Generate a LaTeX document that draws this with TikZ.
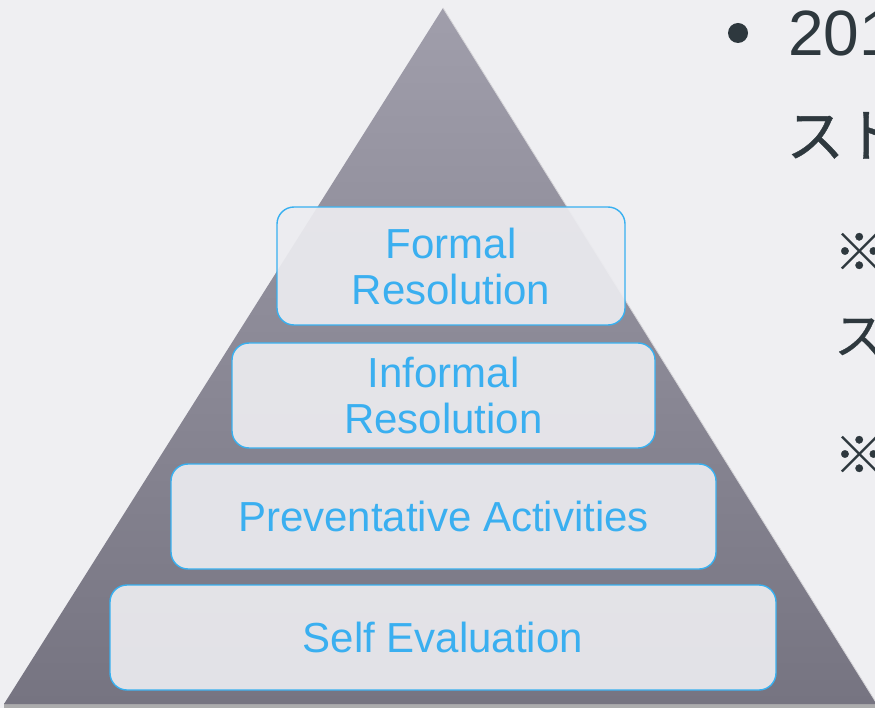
\documentclass[tikz,border=0pt]{standalone}
\usepackage{fontspec}
\setmainfont{Liberation Sans}
\newfontfamily\jpfont[FakeBold=0.6]{Noto Sans CJK JP}
\definecolor{bgc}{HTML}{EFEFF2}
\definecolor{boxfill}{HTML}{ECECF0}
\definecolor{boxline}{HTML}{38B0F0}
\definecolor{txtblue}{HTML}{3AAFF0}
\definecolor{pyrtop}{HTML}{A09EAB}
\definecolor{pyrbot}{HTML}{767481}
\definecolor{darktxt}{HTML}{2E383E}
\tikzset{
  tier/.style={draw=boxline, line width=1.4pt, fill=boxfill, fill opacity=0.92, text opacity=1,
    rounded corners=17pt, inner sep=0pt, text=txtblue, align=center,
    font=\fontsize{42}{46}\selectfont},
  jptxt/.style={inner sep=0pt, text=darktxt, anchor=base west}
}
\begin{document}
\begin{tikzpicture}[x=1pt,y=-1pt]
\useasboundingbox (0,0) rectangle (875,708);
\fill[bgc] (0,0) rectangle (875,708);
\clip (0,0) rectangle (875,708);
% pyramid
\fill[gray!60!bgc] (4,703) -- (875,703) -- (875,708) -- (4,708) -- cycle;
\shade[top color=pyrtop, bottom color=pyrbot] (443,8) -- (877,704) -- (4,704) -- cycle;
\draw[white!70!pyrbot, line width=0.8pt] (443,8) -- (877,704);
% tiers
\node[tier, minimum width=666pt, minimum height=105pt] (self) at (443,637.5) {Self Evaluation};
\node[tier, minimum width=545pt, minimum height=105pt] (prev) at (443.5,516.5) {Preventative Activities};
\node[tier, minimum width=423pt, minimum height=105pt] (inf) at (443.5,395.5) {Informal\\Resolution};
\node[tier, minimum width=348pt, minimum height=118pt] (form) at (451,266) {Formal\\Resolution};
% right text
\node[circle, fill=darktxt, inner sep=0pt, minimum size=20pt] (bul) at (738,33) {};
\node[jptxt, font=\fontsize{64}{64}\selectfont] (l1) at (788,56) {2019};
\node[jptxt, font=\jpfont\fontsize{58}{58}\selectfont] (l2) at (786,157) {ストレス};
\node[jptxt, font=\jpfont\fontsize{50}{50}\selectfont] (l3) at (834,270) {※};
\node[jptxt, font=\jpfont\fontsize{50}{50}\selectfont] (l4) at (834,354) {ス};
\node[jptxt, font=\jpfont\fontsize{50}{50}\selectfont] (l5) at (834,473) {※};
\end{tikzpicture}
\end{document}
